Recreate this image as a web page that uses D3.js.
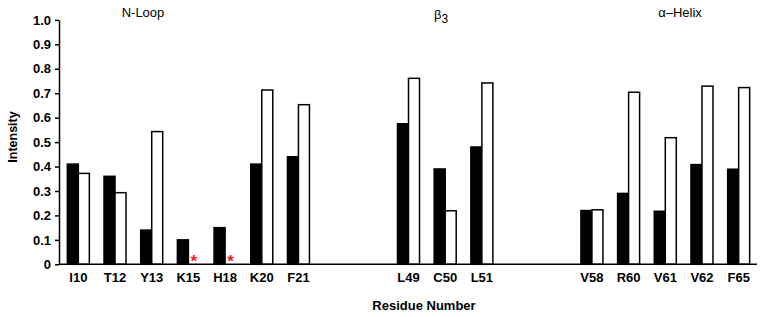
<!DOCTYPE html>
<html>
<head>
<meta charset="utf-8">
<script src="https://cdn.jsdelivr.net/npm/d3@7"></script>
<style>
  body { margin: 0; background: #fff; }
  svg { font-family: "Liberation Sans", Arial, sans-serif; }
</style>
</head>
<body>
<div id="chart"></div>
<script>
// residues per region
const nLoop = ["I10", "T12", "Y13", "K15", "H18", "K20", "F21"];
const beta3 = ["L49", "C50", "L51"];
const helix = ["V58", "R60", "V61", "V62", "F65"];
const residues = nLoop.concat(beta3, helix);

// filled bars / open bars
const darkValues  = [0.41, 0.36, 0.14, 0.10, 0.15, 0.41, 0.44, 0.575, 0.39, 0.48, 0.22, 0.29, 0.217, 0.408, 0.389];
const lightValues = [0.372, 0.293, 0.543, 0, 0, 0.713, 0.653, 0.761, 0.219, 0.742, 0.223, 0.704, 0.518, 0.729, 0.723];
const missing = ["K15", "H18"]; // open bar not measured (red star)

const yTicks = [0, 0.1, 0.2, 0.3, 0.4, 0.5, 0.6, 0.7, 0.8, 0.9, 1.0];
const regionLabels = ["N-Loop", "β", "α\u2013Helix"];

const data = residues.map((r, i) => ({ res: r, dark: darkValues[i], light: lightValues[i] }));

// slots with two empty spaces between regions
const slots = nLoop.concat(["gap1", "gap2"], beta3, ["gap3", "gap4"], helix);

const W = 763, H = 317;
const svg = d3.select("#chart").append("svg")
  .attr("width", W)
  .attr("height", H);

const x0 = d3.scaleBand()
  .domain(slots)
  .range([60, 757])
  .paddingInner(0.4)
  .paddingOuter(0.2);

const x1 = d3.scaleBand()
  .domain(["dark", "light"])
  .range([0, x0.bandwidth()]);

const y = d3.scaleLinear()
  .domain([0, 1])
  .range([264.3, 19.9]);

const groups = svg.append("g")
  .selectAll("g")
  .data(data)
  .join("g")
  .attr("transform", d => `translate(${x0(d.res)},0)`);

groups.selectAll("rect")
  .data(d => [
    { key: "dark", value: d.dark },
    { key: "light", value: d.light }
  ].filter(b => b.value > 0))
  .join("rect")
  .attr("x", d => x1(d.key))
  .attr("y", d => y(d.value))
  .attr("width", x1.bandwidth())
  .attr("height", d => y(0) - y(d.value))
  .attr("fill", d => d.key === "dark" ? "#000" : "#fff")
  .attr("stroke", "#000")
  .attr("stroke-width", 1.5);

// red stars for missing open bars
svg.append("g")
  .selectAll("text")
  .data(missing)
  .join("text")
  .attr("x", d => x0(d) + x1("light") + x1.bandwidth() / 2)
  .attr("y", y(0) + 3)
  .attr("text-anchor", "middle")
  .attr("fill", "#e8202a")
  .style("font-size", "17px")
  .style("font-weight", "bold")
  .text("*");

// y axis
const yAxis = svg.append("g")
  .attr("transform", "translate(59,0)")
  .call(d3.axisLeft(y)
    .tickValues(yTicks)
    .tickSize(4)
    .tickSizeOuter(0)
    .tickFormat(d => d === 0 ? "0" : d3.format(".1f")(d)));
yAxis.select(".domain").attr("stroke-width", 1.5);
yAxis.selectAll(".tick line").attr("stroke-width", 1.5);
yAxis.selectAll("text")
  .attr("x", -8)
  .style("font-size", "13px")
  .style("font-weight", "bold")
  .style("font-family", "'Liberation Sans', Arial, sans-serif");

// x axis
const xAxis = svg.append("g")
  .attr("transform", `translate(0,${y(0)})`)
  .call(d3.axisBottom(x0)
    .tickSize(0)
    .tickFormat(d => d.startsWith("gap") ? "" : d));
xAxis.select(".domain")
  .attr("d", `M59,0H757`)
  .attr("stroke-width", 1.5);
xAxis.selectAll("text")
  .attr("y", 8)
  .style("font-size", "13px")
  .style("font-weight", "bold")
  .style("font-family", "'Liberation Sans', Arial, sans-serif");

// axis titles
svg.append("text")
  .attr("transform", "rotate(-90)")
  .attr("x", -137)
  .attr("y", 17)
  .attr("text-anchor", "middle")
  .style("font-size", "12.5px")
  .style("font-weight", "bold")
  .text("Intensity");

svg.append("text")
  .attr("x", 424)
  .attr("y", 310)
  .attr("text-anchor", "middle")
  .style("font-size", "13px")
  .style("font-weight", "bold")
  .text("Residue Number");

// region labels
svg.append("text")
  .attr("x", 143)
  .attr("y", 17)
  .attr("text-anchor", "middle")
  .style("font-size", "13px")
  .text(regionLabels[0]);

const b = svg.append("text")
  .attr("x", 434)
  .attr("y", 19)
  .style("font-size", "13px");
b.append("tspan").text(regionLabels[1]);
b.append("tspan").attr("dy", 4).style("font-size", "12px").text("3");

svg.append("text")
  .attr("x", 680)
  .attr("y", 17)
  .attr("text-anchor", "middle")
  .style("font-size", "13px")
  .text(regionLabels[2]);
</script>
</body>
</html>
